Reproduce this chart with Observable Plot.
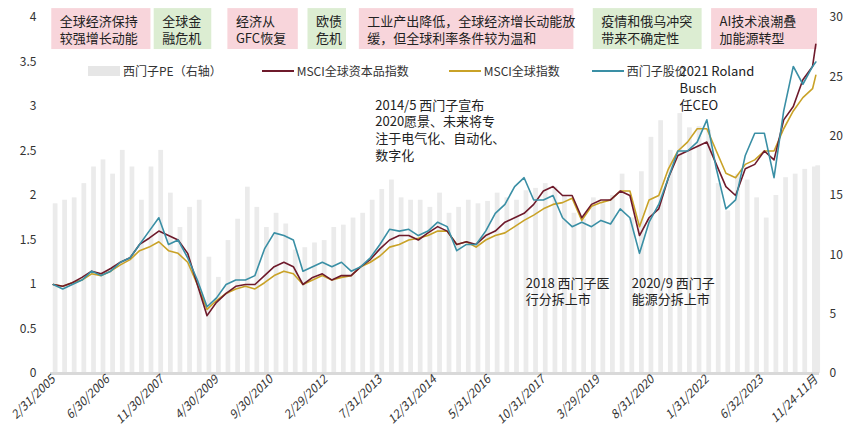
<!DOCTYPE html>
<html><head><meta charset="utf-8">
<script src="https://cdn.jsdelivr.net/npm/d3@7"></script>
<script src="https://cdn.jsdelivr.net/npm/@observablehq/plot@0.6"></script>
<style>
body{margin:0;background:#fff;font-family:"Noto Sans CJK SC","Noto Sans",sans-serif}
#wrap{position:relative;width:851px;height:443px}
#legend{position:absolute;left:88px;top:62px;font-size:12px;color:#333;display:flex;gap:0;white-space:nowrap}
#legend span{display:inline-flex;align-items:center;margin-right:22px}
.sw{display:inline-block;width:32px;margin-right:3px}
</style></head><body>
<div id="wrap"><div id="legend">
<span><i class="sw" style="height:10px;background:#e6e6e6"></i>西门子PE（右轴）</span>
<span style="margin-left:18px"><i class="sw" style="height:2px;background:#6e1a2b"></i>MSCI全球资本品指数</span>
<span style="margin-left:18px"><i class="sw" style="height:2px;background:#c9a227"></i>MSCI全球指数</span>
<span style="margin-left:10px"><i class="sw" style="height:2px;background:#3a8fa5"></i>西门子股价</span>
</div></div>
<script>
const siemens=[1.0,0.95,1.0,1.05, 1.15,1.1,1.15,1.25, 1.3,1.45,1.6,1.75, 1.45,1.5,1.3,1.05, 0.75,0.85,1.0,1.05, 1.05,1.1,1.4,1.58, 1.55,1.5,1.15,1.2, 1.25,1.2,1.25,1.15, 1.2,1.3,1.45,1.62, 1.6,1.62,1.55,1.6, 1.7,1.65,1.38,1.45, 1.45,1.6,1.8,1.9, 2.1,2.2,1.95,1.95, 2.0,1.75,1.65,1.7, 1.65,1.72,1.68,1.85, 1.75,1.35,1.7,1.9, 2.2,2.5,2.5,2.6, 2.85,2.3,1.85,1.95, 2.45,2.7,2.7,2.2, 2.95,3.45,3.25,3.45, 3.5];
const capGoods=[1.0,0.98,1.02,1.08, 1.15,1.12,1.18,1.25, 1.3,1.45,1.52,1.6, 1.55,1.5,1.35,1.0, 0.65,0.8,0.9,0.98, 1.0,1.0,1.1,1.2, 1.25,1.2,1.0,1.08, 1.12,1.05,1.1,1.1, 1.2,1.28,1.4,1.5, 1.55,1.55,1.5,1.58, 1.65,1.6,1.45,1.48, 1.45,1.55,1.6,1.7, 1.75,1.8,1.9,2.05, 2.1,2.0,2.0,1.75, 1.9,1.95,1.95,2.05, 2.0,1.55,1.75,1.85, 2.2,2.45,2.5,2.55, 2.6,2.35,2.1,2.0, 2.3,2.35,2.5,2.4, 2.85,3.0,3.3,3.45, 3.7];
const world=[1.0,0.98,1.02,1.05, 1.12,1.1,1.15,1.22, 1.28,1.38,1.42,1.48, 1.38,1.35,1.25,1.0, 0.72,0.82,0.9,0.95, 0.98,0.95,1.02,1.1, 1.15,1.12,1.0,1.05, 1.1,1.05,1.08,1.1, 1.2,1.25,1.32,1.42, 1.45,1.5,1.52,1.55, 1.6,1.6,1.45,1.48, 1.42,1.5,1.55,1.58, 1.65,1.72,1.78,1.85, 1.9,1.92,1.97,1.72, 1.88,1.92,1.95,2.05, 2.05,1.65,1.95,2.0, 2.3,2.5,2.6,2.75, 2.75,2.5,2.25,2.2, 2.35,2.4,2.5,2.5, 2.75,2.95,3.1,3.2, 3.35];
const pe=[14.3,14.6,14.8,16, 17.4,18,16.8,18.8, 17.4,14.6,17.4,18.8, 15.2,12.3,14,14.6, 9.8,8.1,11.2,13, 15.7,14,12.3,13.5, 12.6,10.4,10.6,11, 11.2,12.3,12.5,13.1, 13.5,14.6,15.5,16.3, 14.8,14.6,14.6,14, 15.2,13.5,14,14.6, 14.3,14.5,15.2,14.8, 14.6,15.4,15.6,16, 15.7,15,13.5,13, 14.8,14.3,15,16.8, 13.1,17,19.9,21.3, 18.8,21.9,20.7,20.8, 20.5,16,13.7,16.8, 16.3,14.8,13.1,15, 16.5,16.8,17.2,17.4, 17.5];
const tickLabels=["2/31/2005","6/30/2006","11/30/2007","4/30/2009","9/30/2010","2/29/2012","7/31/2013","12/31/2014","5/31/2016","10/31/2017","3/29/2019","8/31/2020","1/31/2022","6/32/2023","11/24-11月"];
const phases=[
 {s:"2005-01",e:"2007-08",t:"全球经济保持\n较强增长动能",c:"#f8d5db"},
 {s:"2007-09",e:"2009-03",t:"全球金\n融危机",c:"#dcedd2"},
 {s:"2009-08",e:"2011-06",t:"经济从\nGFC恢复",c:"#f8d5db"},
 {s:"2011-09",e:"2012-09",t:"欧债\n危机",c:"#dcedd2"},
 {s:"2013-01",e:"2018-08",t:"工业产出降低，全球经济增长动能放\n缓，但全球利率条件较为温和",c:"#f8d5db"},
 {s:"2019-02",e:"2021-12",t:"疫情和俄乌冲突\n带来不确定性",c:"#dcedd2"},
 {s:"2022-03",e:"2024-12",t:"AI技术浪潮叠\n加能源转型",c:"#f8d5db"}];
const notes=[
 {d:"2013-06",v:3.1,t:"2014/5 西门子宣布\n2020愿景、未来将专\n注于电气化、自动化、\n数字化"},
 {d:"2017-05",v:1.1,t:"2018 西门子医\n行分拆上市"},
 {d:"2020-02",v:1.1,t:"2020/9 西门子\n能源分拆上市"},
 {d:"2021-05",v:3.48,t:"2021 Roland\nBusch\n任CEO"}];
const dt=i=>new Date(2005,Math.min(i*3,238),15);
const rows=siemens.map((v,i)=>({date:dt(i),s:v,m:capGoods[i],w:world[i],pe:pe[i]}));
const tickDates=tickLabels.map((l,i)=>new Date(2005,i*17,15));
const P=s=>new Date(s+"-01");
const ph=phases.map(p=>({...p,x1:P(p.s),x2:P(p.e)}));
const k=4/30;
const chart=Plot.plot({
 width:851,height:443,marginLeft:50,marginRight:32,marginTop:17,marginBottom:70,
 style:{fontFamily:"'Noto Sans CJK SC',sans-serif",fontSize:"12px",color:"#333"},
 x:{type:"time",domain:[new Date(2004,11,20),new Date(2024,11,20)]},
 y:{domain:[0,4]},
 marks:[
  Plot.rectY(rows,{x1:"date",x2:d=>new Date(+d.date+45*864e5),y:d=>d.pe*k,fill:"#ebebeb"}),
  Plot.ruleY([0],{stroke:"#d9d9d9",strokeWidth:3}),
  Plot.rect(ph,{x1:"x1",x2:"x2",y1:3.64,y2:4.1,fill:"c",clip:false}),
  Plot.text(ph,{x:"x1",y:3.87,text:"t",textAnchor:"start",dx:8,fontSize:13,lineHeight:1.35,fill:"#222"}),
  Plot.line(rows,{x:"date",y:"w",stroke:"#c9a227",strokeWidth:1.6}),
  Plot.line(rows,{x:"date",y:"m",stroke:"#6e1a2b",strokeWidth:1.6}),
  Plot.line(rows,{x:"date",y:"s",stroke:"#3a8fa5",strokeWidth:1.6}),
  Plot.text(notes,{x:d=>P(d.d),y:"v",text:"t",textAnchor:"start",lineAnchor:"top",fontSize:13,lineHeight:1.3,fill:"#222"}),
  Plot.axisY({anchor:"left",ticks:[0,0.5,1,1.5,2,2.5,3,3.5,4],tickFormat:d=>String(d),tickSize:0,tickPadding:14,label:null}),
  Plot.axisY({anchor:"right",ticks:[0,5,10,15,20,25,30].map(v=>v*k),tickFormat:d=>Math.round(d/k),tickSize:0,tickPadding:10,label:null}),
  Plot.axisX({ticks:tickDates,tickFormat:(d,i)=>tickLabels[i],tickRotate:-45,tickSize:0,tickPadding:4,label:null,fontStyle:"italic"})
 ]});
document.getElementById("wrap").prepend(chart);
</script></body></html>
